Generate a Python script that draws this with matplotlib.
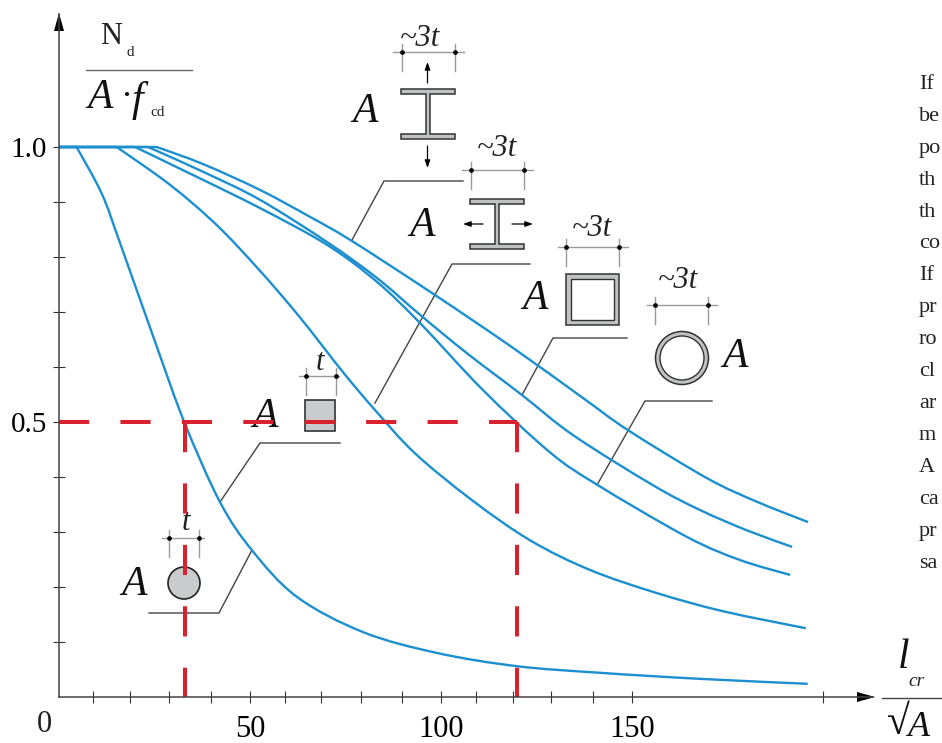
import matplotlib
matplotlib.use('Agg')
from matplotlib import pyplot as plt
from matplotlib.patches import Circle, Rectangle, Polygon, PathPatch
from matplotlib.path import Path

plt.rcParams['font.family'] = ['Liberation Serif', 'DejaVu Serif']

W, H = 942, 743
BLUE = '#1b8fcf'
RED = '#d8232f'
DARK = '#444444'
GREY = '#9a9a9a'
FILL = '#c9cbcd'

## curves: slenderness, N_d/(A*f_cd). first point is where the curve leaves 1.0
solid_circle_x = [4.6, 11.2, 16, 25.6, 32.9, 42.1, 50.5, 62.3, 79.6, 99, 119.9, 141.6, 167.8, 196]
solid_circle_y = [1.0, .915, .825, .637, .498, .355, .267, .182, .118, .08, .056, .044, .033, .024]
solid_square_x = [15.1, 29.1, 41.3, 52.6, 63.1, 74.3, 82.7, 93.2, 108.1, 123.3, 139, 156.5, 173.8, 195.5]
solid_square_y = [1.0, .931, .858, .775, .69, .591, .522, .443, .358, .285, .231, .189, .156, .125]
i_strong_x = [25.6, 37.7, 52.6, 65.7, 76.7, 98.4, 118.8, 136.9, 149, 169.6, 182.7, 196.1]
i_strong_y = [1.0, .969, .922, .873, .829, .731, .635, .545, .485, .398, .355, .318]
i_weak_x = [23.3, 37.7, 52.6, 70.2, 83.2, 94.5, 106.8, 121.2, 134.6, 155.5, 167.8, 180.1, 191.9]
i_weak_y = [1.0, .955, .904, .827, .762, .695, .625, .549, .476, .385, .34, .303, .273]
box_x = [19.9, 35.1, 52.6, 70.2, 83.2, 94.5, 111, 128.5, 141.1, 164.4, 178.3, 191.4]
box_y = [1.0, .949, .889, .822, .755, .68, .558, .445, .385, .291, .249, .222]

x_ticks = [9, 18.5, 28.8, 39.8, 50, 59.2, 68.6, 79, 89.8, 100, 109.2, 118.9, 128.8, 139.8, 150, 200]
x_labels = {50: '50', 100: '100', 150: '150'}
y_ticks = [.1, .2, .3, .4, .5, .6, .7, .8, .9, 1.0]
y_labels = {.5: '0.5', 1.0: '1.0'}

read_x = [33, 120]
read_y = 0.5

side_text = ['If', 'be', 'po', 'th', 'th', 'co', 'If', 'pr', 'ro', 'cl', 'ar', 'm', 'A', 'ca', 'pr', 'sa']


def smooth_path(xs, ys):
    """Bezier path running through the read points."""
    pts = list(zip(xs, ys))
    verts = [pts[0]]
    codes = [Path.MOVETO]
    for i in range(len(pts) - 1):
        p0 = pts[max(i - 1, 0)]
        p1 = pts[i]
        p2 = pts[i + 1]
        p3 = pts[min(i + 2, len(pts) - 1)]
        verts.append((p1[0] + (p2[0] - p0[0]) / 6, p1[1] + (p2[1] - p0[1]) / 6))
        verts.append((p2[0] - (p3[0] - p1[0]) / 6, p2[1] - (p3[1] - p1[1]) / 6))
        verts.append(p2)
        codes += [Path.CURVE4] * 3
    return Path(verts, codes)


fig = plt.figure(figsize=(W / 100, H / 100), dpi=100)

## overlay in pixel coordinates for the section sketches and labels
ov = fig.add_axes([0, 0, 1, 1], zorder=0)
ov.set_xlim(0, W)
ov.set_ylim(H, 0)
ov.axis('off')

ax = fig.add_axes([59 / W, (H - 697) / H, (873 - 59) / W, (697 - 14) / H], zorder=1)
ax.patch.set_alpha(0)
ax.set_xlim(0, 814 / 3.82)
ax.set_ylim(0, 683 / 550)
for s in ['top', 'right']:
    ax.spines[s].set_visible(False)
for s in ['left', 'bottom']:
    ax.spines[s].set_color(DARK)
    ax.spines[s].set_linewidth(1.1)

ax.set_xticks(x_ticks)
ax.set_xticklabels([x_labels.get(t, '') for t in x_ticks], fontsize=22)
ax.set_yticks(y_ticks)
ax.set_yticklabels([y_labels.get(t, '') for t in y_ticks], fontsize=21)
ax.tick_params(axis='x', direction='inout', length=8.5, width=.8, color='#333333', pad=8.5)
ax.tick_params(axis='y', direction='inout', length=9, width=.8, color='#333333', pad=4)

for cx, cy in [(solid_circle_x, solid_circle_y), (solid_square_x, solid_square_y),
               (i_strong_x, i_strong_y), (i_weak_x, i_weak_y), (box_x, box_y)]:
    ax.plot([0, cx[0]], [cy[0], cy[0]], color=BLUE, lw=1.7, solid_capstyle='butt')
    ax.add_patch(PathPatch(smooth_path(cx, cy), fill=False, ec=BLUE, lw=1.7, capstyle='butt'))

dash = (0, (30 / 4 * 1.0, 31 / 4 * 1.0))
ax.plot([0, read_x[1]], [read_y, read_y], color=RED, lw=2.9, ls=dash, dash_capstyle='butt')
for xr in read_x:
    ax.plot([xr, xr], [read_y, 0], color=RED, lw=2.9, ls=dash, dash_capstyle='butt')

## axis arrow heads
ov.add_patch(Polygon([(59, 13), (54, 31), (64, 31)], closed=True, color='black', lw=0))
ov.add_patch(Polygon([(875, 697), (857, 692), (857, 702)], closed=True, color='black', lw=0))


def leader(points):
    xs, ys = zip(*points)
    ov.plot(xs, ys, color=DARK, lw=1.0, solid_joinstyle='miter')


def dim(x0, x1, d0, d1, y, label, lx, ly):
    ov.plot([x0, x1], [y, y], color=GREY, lw=1.0)
    for d in (d0, d1):
        ov.plot([d, d], [y - 8, y + 19], color=GREY, lw=1.0)
        ov.plot([d], [y], 'o', color='black', ms=3.4, mew=0)
    ov.text(lx, ly, label, fontsize=22, style='italic', ha='center', va='center', color='#222222')


def arrow(x0, y0, x1, y1):
    ov.annotate('', xy=(x1, y1), xytext=(x0, y0),
                arrowprops=dict(arrowstyle='-|>,head_length=.45,head_width=.16', color='black',
                                lw=.9, shrinkA=0, shrinkB=0))


def i_section(x0, x1, y0, y1, wx0, wx1):
    pts = [(x0, y0), (x1, y0), (x1, y0 + 5), (wx1, y0 + 5), (wx1, y1 - 5), (x1, y1 - 5), (x1, y1),
           (x0, y1), (x0, y1 - 5), (wx0, y1 - 5), (wx0, y0 + 5), (x0, y0 + 5)]
    ov.add_patch(Polygon(pts, closed=True, fc='#c0c2c4', ec='#333333', lw=1.1))


def big_a(x, y):
    ov.text(x, y, 'A', fontsize=30, style='italic', ha='center', va='center', color='#111111')


## strong axis I section
i_section(401, 455, 89, 139, 426, 430)
dim(393, 464, 402, 455, 52, '~3t', 420, 38)
arrow(427.5, 83, 427.5, 62)
arrow(427.5, 146, 427.5, 168)
big_a(365, 112)
leader([(463, 181), (384, 181), (352, 240)])

## weak axis I section
i_section(470, 524, 199, 249, 495, 499)
dim(462, 533, 470.5, 524, 170, '~3t', 497, 148)
arrow(483, 224, 463, 224)
arrow(512, 224, 533, 224)
big_a(422, 226)
leader([(530, 264), (452, 264), (375, 403)])

## box
ov.add_patch(Rectangle((566, 274), 53, 51, fc='#c0c2c4', ec='#333333', lw=1.1))
ov.add_patch(Rectangle((571, 279), 43, 41, fc='white', ec='#333333', lw=1.0))
dim(558, 628, 566, 619, 247, '~3t', 592, 228)
big_a(535, 299)
leader([(627, 338), (553, 338), (522, 395)])

## tube
ov.add_patch(Circle((682, 358), 26.5, fc='#c0c2c4', ec='#333333', lw=1.1))
ov.add_patch(Circle((682, 358), 22, fc='white', ec='#333333', lw=1.0))
dim(647, 717, 655, 708, 305, '~3t', 678, 280)
big_a(735, 357)
leader([(712, 401), (645, 401), (597, 485)])

## solid square
ov.add_patch(Rectangle((305, 400), 30, 31, fc=FILL, ec='#333333', lw=1.2))
dim(299, 339, 306, 335.5, 376, 't', 320, 362)
big_a(265, 417)
leader([(340, 443), (260, 443), (220, 502)])

## solid circle
ov.add_patch(Circle((184, 583), 16, fc=FILL, ec='#222222', lw=1.2))
dim(162, 204, 169, 199, 538, 't', 186, 523)
big_a(134, 585)
leader([(149, 613), (219, 613), (252, 550)])

## y axis fraction
ov.text(111, 37, 'N', fontsize=22, ha='center', va='center', color='#222222')
ov.text(130, 52, 'd', fontsize=11, ha='center', va='center', color='#222222')
ov.plot([86, 192], [70, 70], color='#666666', lw=1.0)
ov.text(100, 98, 'A', fontsize=30, style='italic', ha='center', va='center', color='#111111')
ov.text(126, 97, '\u00b7', fontsize=26, ha='center', va='center', color='#111111')
ov.text(137, 100, 'f', fontsize=30, style='italic', ha='center', va='center', color='#111111')
ov.text(158, 112, 'cd', fontsize=11, ha='center', va='center', color='#222222')

## x axis fraction
ov.text(904, 658, 'l', fontsize=30, style='italic', ha='center', va='center', color='#111111')
ov.text(917, 682, 'cr', fontsize=14, style='italic', ha='center', va='center', color='#222222')
ov.plot([882, 942], [698, 698], color='#444444', lw=1.0)
ov.text(898, 724, '\u221a', fontsize=30, ha='center', va='center', color='#111111')
ov.text(919, 727, 'A', fontsize=26, style='italic', ha='center', va='center', color='#111111')

ov.text(44, 725, '0', fontsize=22, ha='center', va='center', color='#222222')

## running text cut off by the page edge
for i, line in enumerate(side_text):
    ov.text(919, 89 + i * 31.9, line, fontsize=16, ha='left', va='baseline', color='#222222')

plt.savefig('out.png', dpi=100)
